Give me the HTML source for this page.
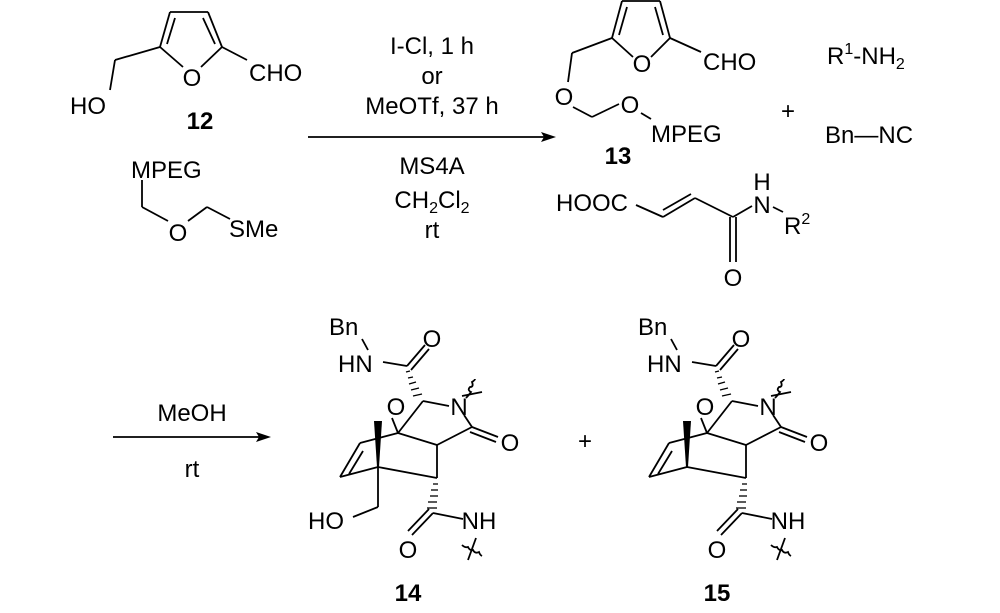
<!DOCTYPE html>
<html><head><meta charset="utf-8"><style>
html,body{margin:0;padding:0;background:#fff;}
svg{display:block;}
text{font-family:"Liberation Sans",Arial,sans-serif;font-size:24px;fill:#000;}
.b{font-weight:bold;}
</style></head><body>
<svg width="1000" height="613" viewBox="0 0 1000 613" xmlns="http://www.w3.org/2000/svg">
<defs>
<g id="core" stroke="#000" stroke-width="1.8" fill="none">
  <line x1="362" y1="339" x2="368" y2="350"/>
  <line x1="383" y1="362" x2="407" y2="366"/>
  <line x1="407" y1="366" x2="425" y2="345"/>
  <line x1="411" y1="370" x2="429" y2="349"/>
  <g stroke-width="1.3">
   <line x1="406" y1="372" x2="410" y2="371"/>
   <line x1="408" y1="378" x2="413" y2="377"/>
   <line x1="409" y1="384" x2="416" y2="382"/>
   <line x1="411" y1="390" x2="419" y2="388"/>
   <line x1="413" y1="396" x2="422" y2="394"/>
  </g>
  <line x1="423" y1="401" x2="449" y2="406"/>
  <path d="M466 398 q3 -3 5 -6 q-4 -2 -1 -5 q4 0 2 -5 q3 -2 3 -3"/>
  <line x1="462" y1="396" x2="482" y2="392"/>
  <line x1="464" y1="415" x2="472" y2="427"/>
  <line x1="472" y1="427" x2="498" y2="437"/>
  <line x1="470" y1="432" x2="496" y2="442"/>
  <line x1="472" y1="427" x2="437" y2="445"/>
  <line x1="423" y1="401" x2="398" y2="433"/>
  <line x1="398" y1="433" x2="437" y2="445"/>
  <line x1="398" y1="433" x2="392" y2="418"/>
  <line x1="398" y1="433" x2="360" y2="443"/>
  <line x1="360" y1="443" x2="340" y2="477"/>
  <line x1="363" y1="451" x2="349" y2="474"/>
  <line x1="340" y1="477" x2="378" y2="467"/>
  <line x1="378" y1="467" x2="437" y2="478"/>
  <line x1="437" y1="445" x2="437" y2="478"/>
  <g stroke-width="1.3">
   <line x1="433" y1="484" x2="438" y2="484"/>
   <line x1="431" y1="490" x2="438" y2="490"/>
   <line x1="430" y1="496" x2="438" y2="496"/>
   <line x1="428" y1="502" x2="437" y2="502"/>
   <line x1="427" y1="508" x2="437" y2="508"/>
  </g>
  <line x1="433" y1="513" x2="463" y2="519"/>
  <line x1="433" y1="513" x2="412" y2="535"/>
  <line x1="429" y1="509" x2="408" y2="531"/>
  <path d="M462 545 q3 3 6 2 q2 4 5 3 q2 4 6 2 q1 3 3 4"/>
  <line x1="476" y1="538" x2="468" y2="560"/>
</g>
</defs>

<g stroke="#000" stroke-width="1.8" fill="none">
  <line x1="170" y1="12" x2="208" y2="12"/>
  <line x1="170" y1="12" x2="160" y2="47"/>
  <line x1="175" y1="18" x2="167" y2="44"/>
  <line x1="208" y1="12" x2="222" y2="47"/>
  <line x1="203" y1="18" x2="215" y2="44"/>
  <line x1="160" y1="47" x2="183" y2="67"/>
  <line x1="222" y1="47" x2="201" y2="67"/>
  <line x1="160" y1="47" x2="115" y2="60"/>
  <line x1="115" y1="60" x2="110" y2="90"/>
  <line x1="222" y1="47" x2="247" y2="60"/>
  <line x1="142" y1="180" x2="142" y2="207"/>
  <line x1="142" y1="207" x2="168" y2="221"/>
  <line x1="188" y1="221" x2="207" y2="207"/>
  <line x1="207" y1="207" x2="230" y2="219"/>
</g>
<text x="192" y="86" text-anchor="middle">O</text>
<text x="70" y="114">HO</text>
<text x="249" y="81">CHO</text>
<text x="200" y="129" text-anchor="middle" class="b">12</text>
<text x="131" y="178">MPEG</text>
<text x="178" y="241" text-anchor="middle">O</text>
<text x="229" y="237">SMe</text>

<line x1="308" y1="137" x2="548" y2="137" stroke="#000" stroke-width="1.8"/>
<polygon points="556,137 541,132 544,137 541,142" fill="#000"/>
<text x="432" y="54" text-anchor="middle">I-Cl, 1 h</text>
<text x="432" y="84" text-anchor="middle">or</text>
<text x="432" y="114" text-anchor="middle">MeOTf, 37 h</text>
<text x="432" y="174" text-anchor="middle">MS4A</text>
<text x="432" y="208" text-anchor="middle">CH<tspan font-size="16" dy="5">2</tspan><tspan dy="-5">Cl</tspan><tspan font-size="16" dy="5">2</tspan></text>
<text x="432" y="238" text-anchor="middle">rt</text>

<g stroke="#000" stroke-width="1.8" fill="none">
  <line x1="622" y1="1" x2="660" y2="1"/>
  <line x1="622" y1="1" x2="612" y2="38"/>
  <line x1="627" y1="7" x2="619" y2="35"/>
  <line x1="660" y1="1" x2="670" y2="38"/>
  <line x1="655" y1="7" x2="663" y2="35"/>
  <line x1="612" y1="38" x2="633" y2="57"/>
  <line x1="670" y1="38" x2="651" y2="57"/>
  <line x1="612" y1="38" x2="572" y2="53"/>
  <line x1="572" y1="53" x2="568" y2="82"/>
  <line x1="573" y1="107" x2="592" y2="117"/>
  <line x1="592" y1="117" x2="619" y2="104"/>
  <line x1="641" y1="113" x2="651" y2="119"/>
  <line x1="670" y1="38" x2="701" y2="52"/>
  <line x1="636" y1="205" x2="663" y2="217"/>
  <line x1="663" y1="217" x2="695" y2="198"/>
  <line x1="663" y1="210" x2="691" y2="194"/>
  <line x1="695" y1="198" x2="733" y2="217"/>
  <line x1="733" y1="217" x2="752" y2="206"/>
  <line x1="730" y1="217" x2="730" y2="262"/>
  <line x1="736" y1="217" x2="736" y2="262"/>
  <line x1="773" y1="207" x2="783" y2="212"/>
</g>
<text x="642" y="72" text-anchor="middle">O</text>
<text x="703" y="70">CHO</text>
<text x="564" y="105" text-anchor="middle">O</text>
<text x="630" y="113" text-anchor="middle">O</text>
<text x="651" y="142">MPEG</text>
<text x="618" y="164" text-anchor="middle" class="b">13</text>
<text x="788" y="119" text-anchor="middle">+</text>
<text x="827" y="64">R<tspan font-size="16" dy="-10">1</tspan><tspan dy="10">-NH</tspan><tspan font-size="16" dy="5">2</tspan></text>
<text x="825" y="143">Bn—NC</text>
<text x="556" y="211">HOOC</text>
<text x="762" y="190" text-anchor="middle">H</text>
<text x="762" y="213" text-anchor="middle">N</text>
<text x="784" y="234">R<tspan font-size="16" dy="-10">2</tspan></text>
<text x="733" y="286" text-anchor="middle">O</text>

<line x1="113" y1="437" x2="263" y2="437" stroke="#000" stroke-width="1.8"/>
<polygon points="271,437 256,432 259,437 256,442" fill="#000"/>
<text x="192" y="421" text-anchor="middle">MeOH</text>
<text x="192" y="477" text-anchor="middle">rt</text>

<use href="#core"/>
<g stroke="#000" stroke-width="1.8" fill="none">
  <line x1="378" y1="467" x2="378" y2="507"/>
  <line x1="378" y1="507" x2="353" y2="517"/>
</g>
<polygon points="374,421 382,421 379,467 377,467" fill="#000"/>
<text x="329" y="335">Bn</text>
<text x="338" y="372">HN</text>
<text x="432" y="347" text-anchor="middle">O</text>
<text x="396" y="415" text-anchor="middle">O</text>
<text x="459" y="415" text-anchor="middle">N</text>
<text x="510" y="451" text-anchor="middle">O</text>
<text x="308" y="529">HO</text>
<text x="479" y="529" text-anchor="middle">NH</text>
<text x="408" y="558" text-anchor="middle">O</text>
<text x="408" y="601" text-anchor="middle" class="b">14</text>
<text x="585" y="449" text-anchor="middle">+</text>

<g transform="translate(309,0)">
<use href="#core"/>
<polygon points="374,421 382,421 379,467 377,467" fill="#000"/>
<text x="329" y="335">Bn</text>
<text x="338" y="372">HN</text>
<text x="432" y="347" text-anchor="middle">O</text>
<text x="396" y="415" text-anchor="middle">O</text>
<text x="459" y="415" text-anchor="middle">N</text>
<text x="510" y="451" text-anchor="middle">O</text>
<text x="479" y="529" text-anchor="middle">NH</text>
<text x="408" y="558" text-anchor="middle">O</text>
<text x="408" y="601" text-anchor="middle" class="b">15</text>
</g>
</svg>
</body></html>
